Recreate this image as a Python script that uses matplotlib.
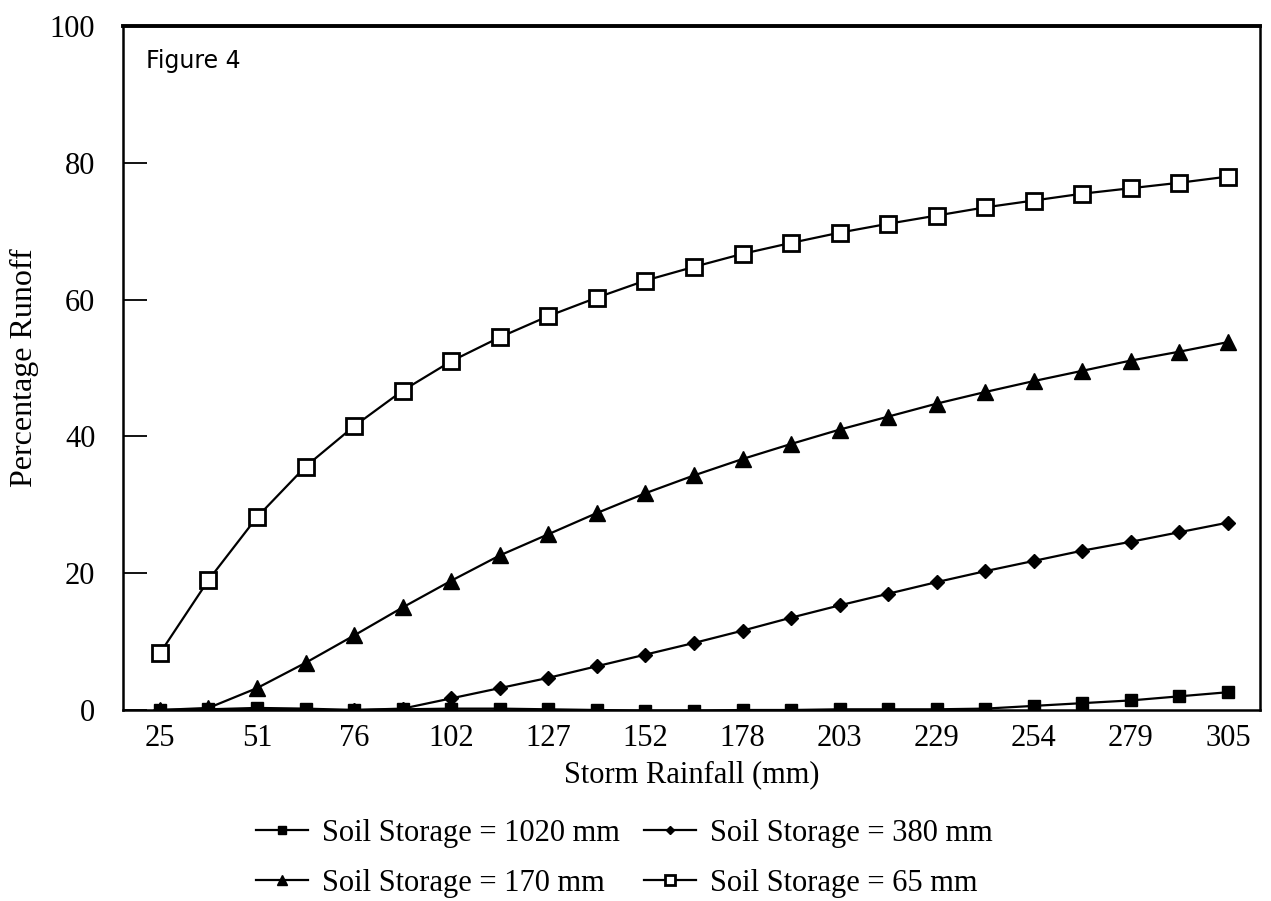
import matplotlib.pyplot as plt

rainfall = [25, 38, 51, 64, 76, 89, 102, 114, 127, 140, 152, 165,
            178, 191, 203, 216, 229, 241, 254, 267, 279, 292, 305]
tick_labels = ['25', '51', '76', '102', '127', '152', '178', '203',
               '229', '254', '279', '305']

storage_1020 = [0.0, 0.1, 0.3, 0.2, 0.0, 0.1, 0.2, 0.2, 0.1, 0.0, -0.1, -0.1,
                0.0, 0.0, 0.1, 0.1, 0.1, 0.2, 0.6, 1.0, 1.4, 2.0, 2.6]
storage_380 = [0.0, 0.0, 0.0, 0.0, 0.0, 0.2, 1.7, 3.2, 4.7, 6.4, 8.1, 9.8,
               11.6, 13.5, 15.3, 17.0, 18.7, 20.3, 21.8, 23.3, 24.6, 26.0, 27.4]
storage_170 = [0.0, 0.3, 3.2, 6.9, 10.9, 15.0, 18.9, 22.6, 25.7, 28.8, 31.7, 34.3,
               36.7, 38.9, 41.0, 42.9, 44.8, 46.5, 48.1, 49.6, 51.1, 52.4, 53.8]
storage_65 = [8.3, 19.0, 28.2, 35.6, 41.5, 46.7, 51.0, 54.5, 57.6, 60.3, 62.8, 64.8,
              66.7, 68.3, 69.8, 71.1, 72.3, 73.5, 74.5, 75.5, 76.3, 77.1, 78.0]

plt.rcParams['font.family'] = ['Liberation Serif', 'DejaVu Serif']

fig = plt.figure(figsize=(12.71, 9.01), dpi=100)
ax = fig.add_axes([0.0968, 0.212, 0.8946, 0.759])

x = list(range(len(rainfall)))
l1, = ax.plot(x, storage_1020, color='black', lw=1.6, marker='s', ms=9,
              mfc='black', mec='black', label='Soil Storage = 1020 mm')
l2, = ax.plot(x, storage_380, color='black', lw=1.6, marker='D', ms=7,
              mfc='black', mec='black', label='Soil Storage = 380 mm')
l3, = ax.plot(x, storage_170, color='black', lw=1.6, marker='^', ms=11,
              mfc='black', mec='black', label='Soil Storage = 170 mm')
l4, = ax.plot(x, storage_65, color='black', lw=1.6, marker='s', ms=11,
              mfc='white', mec='black', mew=2, label='Soil Storage = 65 mm')

ax.set_xlim(-0.76, 22.66)
ax.set_ylim(0, 100)
ax.set_xticks(x[::2])
ax.set_xticklabels(tick_labels, fontsize=22)
ax.set_yticks([0, 20, 40, 60, 80, 100])
ax.set_yticklabels(['0', '20', '40', '60', '80', '100'], fontsize=22)
ax.tick_params(axis='x', length=0, pad=10)
ax.tick_params(axis='y', direction='in', length=17, width=1.3, pad=20)

for s in ax.spines.values():
    s.set_linewidth(1.8)
ax.spines['top'].set_linewidth(2.8)

ax.set_xlabel('Storm Rainfall (mm)', fontsize=22, labelpad=5)
ax.set_ylabel('Percentage Runoff', fontsize=23, labelpad=8)

ax.text(0.02, 0.966, 'Figure 4', transform=ax.transAxes, fontsize=17,
        family='DejaVu Sans', va='top', ha='left')

fig.legend([l1, l3, l2, l4],
           [l1.get_label(), l3.get_label(), l2.get_label(), l4.get_label()],
           ncol=2, loc='lower left', bbox_to_anchor=(0.18, -0.027),
           frameon=False, fontsize=22, handlelength=1.7, handletextpad=0.45,
           columnspacing=0.8, labelspacing=0.68, markerscale=0.65)

plt.savefig('out.png', dpi=100)
